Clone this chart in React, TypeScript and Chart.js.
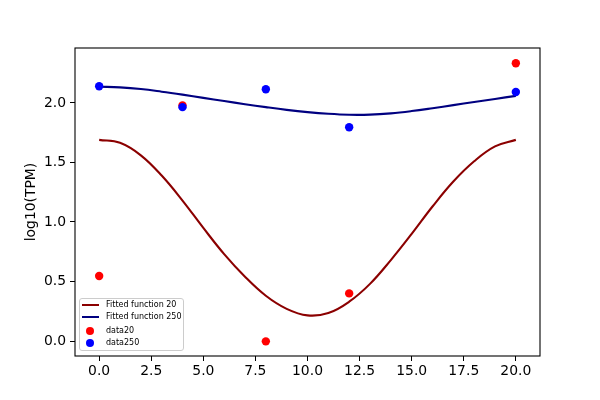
import React, { useEffect, useRef } from "react";
import { Chart, registerables } from "chart.js";

Chart.register(...registerables);

// Fitted curve sample positions and values
const fitX = [0, 1, 2, 3, 4, 5, 6, 7, 8, 9, 10, 11, 12, 13, 14, 15, 16, 17, 18, 19, 20];
const fit20 = [1.69, 1.665, 1.56, 1.39, 1.18, 0.95, 0.73, 0.54, 0.38, 0.27, 0.215, 0.235, 0.33, 0.48, 0.68, 0.9, 1.13, 1.34, 1.51, 1.635, 1.69];
const fit250 = [2.137, 2.131, 2.117, 2.095, 2.07, 2.043, 2.016, 1.99, 1.965, 1.942, 1.923, 1.909, 1.901, 1.902, 1.913, 1.932, 1.956, 1.982, 2.008, 2.034, 2.06];

// Measured data
const sampleX = [0, 4, 8, 12, 20];
const data20 = [0.546, 1.98, -0.003, 0.4, 2.334];
const data250 = [2.14, 1.965, 2.115, 1.796, 2.092];

// Axis ticks
const xTicks = [0, 2.5, 5, 7.5, 10, 12.5, 15, 17.5, 20];
const yTicks = [0, 0.5, 1, 1.5, 2];

const seriesNames = ["Fitted function 20", "Fitted function 250", "data20", "data250"];
const FONT = "'DejaVu Sans', sans-serif";

const framePlugin = {
  id: "frame",
  afterDraw(chart: any) {
    const { ctx, chartArea } = chart;
    ctx.save();
    ctx.strokeStyle = "#000";
    ctx.lineWidth = 1.1;
    ctx.strokeRect(chartArea.left, chartArea.top, chartArea.right - chartArea.left, chartArea.bottom - chartArea.top);
    ctx.restore();
  },
};

export default function App() {
  const ref = useRef<HTMLCanvasElement>(null);

  useEffect(() => {
    if (!ref.current) return;
    const chart = new Chart(ref.current, {
      type: "scatter",
      data: {
        datasets: [
          {
            type: "line",
            label: seriesNames[0],
            data: fitX.map((x, i) => ({ x, y: fit20[i] })),
            borderColor: "#8b0000",
            borderWidth: 2.1,
            pointRadius: 0,
            tension: 0.4,
            fill: false,
            order: 4,
          },
          {
            type: "line",
            label: seriesNames[1],
            data: fitX.map((x, i) => ({ x, y: fit250[i] })),
            borderColor: "#000080",
            borderWidth: 2.1,
            pointRadius: 0,
            tension: 0.4,
            fill: false,
            order: 3,
          },
          {
            type: "scatter",
            label: seriesNames[2],
            data: sampleX.map((x, i) => ({ x, y: data20[i] })),
            backgroundColor: "#ff0000",
            borderWidth: 0,
            pointRadius: 4.2,
            order: 2,
          },
          {
            type: "scatter",
            label: seriesNames[3],
            data: sampleX.map((x, i) => ({ x, y: data250[i] })),
            backgroundColor: "#0000ff",
            borderWidth: 0,
            pointRadius: 4.2,
            order: 1,
          },
        ],
      } as any,
      options: {
        animation: false,
        responsive: false,
        layout: { padding: { left: 0, right: 60, top: 48, bottom: 0 } },
        plugins: { legend: { display: false }, tooltip: { enabled: false } },
        scales: {
          x: {
            type: "linear",
            min: -1.16,
            max: 21.16,
            afterFit: (s: any) => {
              s.height = 44;
            },
            afterBuildTicks: (s: any) => {
              s.ticks = xTicks.map((v) => ({ value: v }));
            },
            grid: { drawOnChartArea: false, drawTicks: true, tickLength: 5, color: "#000", tickWidth: 1 },
            border: { display: false },
            ticks: {
              padding: 2,
              color: "#000",
              font: { family: FONT, size: 13.9 },
              maxRotation: 0,
              callback: (v: any) => Number(v).toFixed(1),
            },
          },
          y: {
            type: "linear",
            min: -0.126,
            max: 2.462,
            afterFit: (s: any) => {
              s.width = 75;
            },
            afterBuildTicks: (s: any) => {
              s.ticks = yTicks.map((v) => ({ value: v }));
            },
            grid: { drawOnChartArea: false, drawTicks: true, tickLength: 5, color: "#000", tickWidth: 1 },
            border: { display: false },
            title: {
              display: true,
              text: "log10(TPM)",
              color: "#000",
              font: { family: FONT, size: 13.9 },
              padding: { top: 23.5, bottom: 0 },
            },
            ticks: {
              padding: 4,
              color: "#000",
              font: { family: FONT, size: 13.9 },
              callback: (v: any) => Number(v).toFixed(1),
            },
          },
        },
      } as any,
      plugins: [framePlugin],
    });
    return () => chart.destroy();
  }, []);

  const rowText: React.CSSProperties = {
    position: "absolute",
    left: 26,
    height: 10,
    lineHeight: "10px",
    fontFamily: FONT,
    fontSize: 8,
    color: "#000",
    whiteSpace: "nowrap",
  };
  const rowCenters = [6.7, 19.3, 33, 44.7];
  const handleColors = ["#8b0000", "#000080", "#ff0000", "#0000ff"];

  return (
    <div style={{ position: "absolute", left: 0, top: 0, width: 600, height: 400, background: "#fff" }}>
      <canvas ref={ref} width={600} height={400} style={{ display: "block", width: 600, height: 400 }} />
      <div
        style={{
          position: "absolute",
          left: 79,
          top: 298,
          width: 105,
          height: 53,
          boxSizing: "border-box",
          border: "1px solid #cccccc",
          borderRadius: 3,
          background: "rgba(255,255,255,0.8)",
        }}
      >
        {seriesNames.map((name, i) => (
          <React.Fragment key={name}>
            {i < 2 ? (
              <div
                style={{
                  position: "absolute",
                  left: 1.5,
                  top: rowCenters[i] - 1 - 1,
                  width: 17,
                  height: 2,
                  background: handleColors[i],
                }}
              />
            ) : (
              <div
                style={{
                  position: "absolute",
                  left: 90 - 79 - 4.2 - 1,
                  top: rowCenters[i] - 4.2 - 1,
                  width: 8.4,
                  height: 8.4,
                  borderRadius: "50%",
                  background: handleColors[i],
                }}
              />
            )}
            <div style={{ ...rowText, top: rowCenters[i] - 5 - 1 }}>{name}</div>
          </React.Fragment>
        ))}
      </div>
    </div>
  );
}
